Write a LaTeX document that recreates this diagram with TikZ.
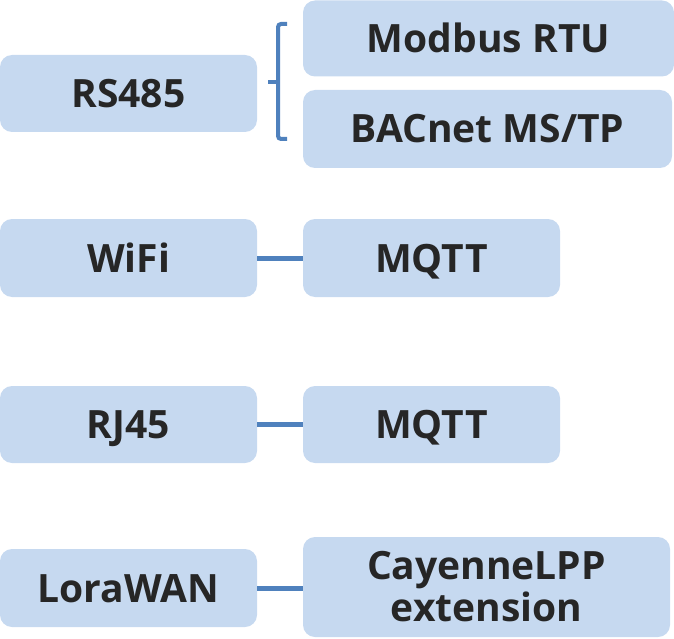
\documentclass[tikz,border=0pt]{standalone}
\usepackage{fontspec}
\setmainfont{Open Sans}
\definecolor{boxfill}{HTML}{C6D9F0}
\definecolor{linecol}{HTML}{4F81BD}
\definecolor{txt}{HTML}{262626}
\begin{document}
\begin{tikzpicture}[x=1pt,y=-1pt,
  box/.style={fill=boxfill,draw=none,rounded corners=12pt,inner sep=0pt,align=center,
    text=txt,font=\bfseries\fontsize{39}{42}\selectfont},
  oneline/.style={box,text height=28pt,text depth=0pt},
  conn/.style={draw=linecol,line width=5pt},
  brace/.style={draw=linecol,line width=4pt,rounded corners=3pt}]
\useasboundingbox (0,0) rectangle (674,639);
\node[oneline,minimum width=257pt,minimum height=77pt] (rs) at (128.5,93.5) {RS485};
\node[oneline,minimum width=371pt,minimum height=76pt] (mod) at (488.5,38.5) {Modbus RTU};
\node[oneline,minimum width=369pt,minimum height=78pt] (bac) at (487.5,129) {BACnet MS/TP};
\node[oneline,minimum width=257pt,minimum height=78pt] (wifi) at (128.5,258) {WiFi};
\node[oneline,minimum width=257pt,minimum height=78pt] (mq1) at (431.5,258) {MQTT};
\node[oneline,minimum width=257pt,minimum height=77pt] (rj) at (128.5,424.5) {RJ45};
\node[oneline,minimum width=257pt,minimum height=77pt] (mq2) at (431.5,424.5) {MQTT};
\node[oneline,minimum width=257pt,minimum height=78pt] (lora) at (128.5,588) {LoraWAN};
\node[box,minimum width=367pt,minimum height=100pt] (cay) at (486.5,587) {CayenneLPP\\extension};
\coordinate (bt) at (287,24);
\coordinate (bb) at (287,139);
\coordinate (bm) at (268,82);
\path[brace] (bt) -- (278,24) -- (278,139) -- (bb);
\path[brace] (278,82) -- (bm);
\path[conn] (wifi.east) -- (mq1.west);
\path[conn] (rj.east) -- (mq2.west);
\path[conn] (lora.east) -- (cay.west |- lora.east);
\end{tikzpicture}
\end{document}
